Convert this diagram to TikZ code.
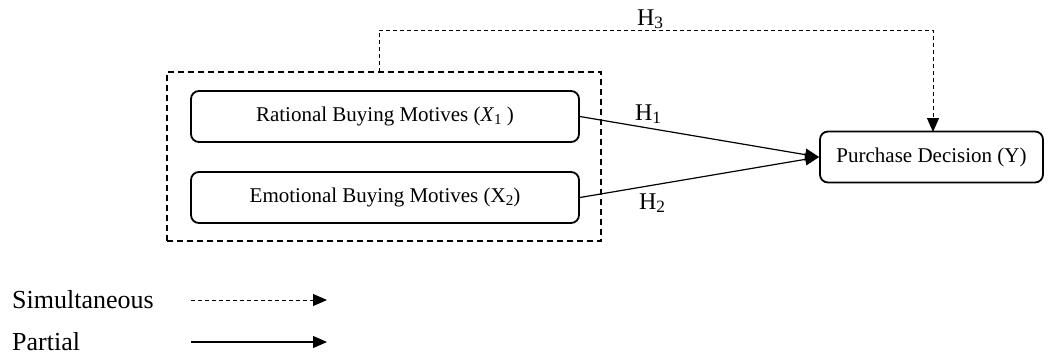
\documentclass[tikz,border=0pt]{standalone}
\usepackage{fontspec}
\setmainfont{Liberation Serif}
\usetikzlibrary{arrows.meta}
\newcommand{\lowsub}[1]{\raisebox{-0.12em}{\scalebox{0.72}{#1}}}
\begin{document}
\begin{tikzpicture}[x=1pt,y=-1pt,
  varbox/.style={draw,line width=1.8pt,rounded corners=8pt,minimum height=51pt,
    inner sep=0pt,font=\fontsize{21}{24}\selectfont},
  groupbox/.style={draw,line width=1.4pt,dash pattern=on 6pt off 4pt},
  partial/.style={line width=1.2pt,-{Triangle[length=14pt,width=12pt]}},
  simul/.style={line width=1pt,dash pattern=on 4pt off 3pt,-{Triangle[length=14pt,width=12pt]}},
  hlabel/.style={font=\fontsize{24}{26}\selectfont,inner sep=0pt},
  legtext/.style={font=\fontsize{26}{30}\selectfont,anchor=west,inner sep=0pt}]
\useasboundingbox (0,0) rectangle (1059,360);

% variable boxes
\node[varbox,minimum width=388pt] (r) at (385,116.5) {Rational Buying Motives (\textit{X}\lowsub{1} )};
\node[varbox,minimum width=388pt] (e) at (385,197.5) {Emotional Buying Motives (X\lowsub{2})};
\node[varbox,minimum width=223pt] (p) at (931.5,157) {Purchase Decision (Y)};

% dashed frame around the independent variables
\node[groupbox,minimum width=434pt,minimum height=169pt,inner sep=0pt] (g) at (384,156.5) {};

% partial effects
\draw[partial] (r.east) -- (p.west);
\draw[partial] (e.east) -- (p.west);
\node[hlabel] (h1) at (648,114) {H\lowsub{1}};
\node[hlabel] (h2) at (652,203) {H\lowsub{2}};

% simultaneous effect
\coordinate (gtop) at (379,72);
\coordinate (ptop) at (933,132);
\draw[simul] (gtop) -- (379,30) -| (ptop);
\node[hlabel] (h3) at (650,19) {H\lowsub{3}};

% legend
\node[legtext] (ls) at (12,300) {Simultaneous};
\node[legtext] (lp) at (12,342) {Partial};
\coordinate (as1) at (191,300);
\coordinate (as2) at (327,300);
\coordinate (ap1) at (191,342);
\coordinate (ap2) at (327,342);
\draw[simul] (as1) -- (as2);
\draw[partial] (ap1) -- (ap2);
\end{tikzpicture}
\end{document}
